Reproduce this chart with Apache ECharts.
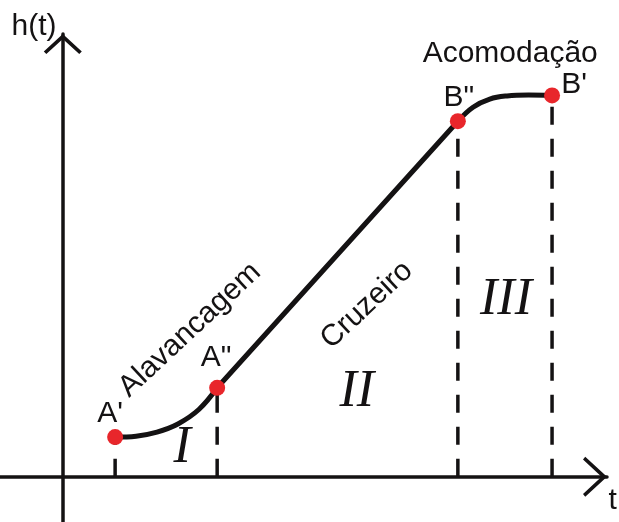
<!DOCTYPE html>
<html>
<head>
<meta charset="utf-8">
<script src="https://cdn.jsdelivr.net/npm/echarts@6/dist/echarts.min.js"></script>
<style>
  html, body { margin: 0; padding: 0; background: #ffffff; }
  #chart { width: 619px; height: 522px; }
</style>
</head>
<body>
<div id="chart"></div>
<script>
// Key points of the flight profile h(t)
const pointNames = ["A'", 'A"', 'B"', "B'"];
const pointT = [1.00, 2.95, 7.55, 9.35];
const pointH = [0.88, 1.97, 7.87, 8.44];

// Launch phase (A' -> A"): smooth take-off curve
const launchT = [1.00, 1.40, 1.80, 2.20, 2.60, 2.95];
const launchH = [0.88, 0.90, 0.99, 1.17, 1.49, 1.97];

// Settling phase (B" -> B'): curve flattening out
const settleT = [7.55, 7.84, 8.16, 8.49, 8.90, 9.35];
const settleH = [7.87, 8.18, 8.36, 8.43, 8.45, 8.44];

// Phase names and roman numerals
const phaseNames = ['Alavancagem', 'Cruzeiro', 'Acomodação'];
const phaseNumerals = ['I', 'II', 'III'];
const axisNames = ['t', 'h(t)'];

const INK = '#141213';
const RED = '#e8262b';
const SANS = "'Liberation Sans', Arial, sans-serif";
const SERIF = "'Liberation Serif', 'Times New Roman', serif";

// open chevron arrow head pointing up (w across, h along the axis, stroke thickness t)
function chevron(w, h, t) {
  const half = w / 2;
  const L = Math.sqrt(half * half + h * h);
  const tipIn = t * L / half;
  const dx = t * h / L, dy = t * half / L;
  const hOut = h - dy;
  const p = [
    [half, 0], [w, hOut], [w - dx, h], [half, tipIn], [dx, h], [0, hOut]
  ];
  return 'path://M' + p.map(q => q[0].toFixed(2) + ',' + q[1].toFixed(2)).join(' L') + ' Z';
}

const zip = (xs, ys) => xs.map((x, i) => [x, ys[i]]);

// text placements in data space
const textLayout = [
  { name: axisNames[1], value: [-0.55, 9.97], font: SANS, size: 30 },
  { name: axisNames[0], value: [10.51, -0.54], font: SANS, size: 30 },
  { name: phaseNames[0], value: [2.43, 3.25], font: SANS, size: 30, rotate: 43 },
  { name: phaseNames[1], value: [5.81, 3.80], font: SANS, size: 30, rotate: 43 },
  { name: phaseNames[2], value: [8.55, 9.36], font: SANS, size: 30 },
  { name: phaseNumerals[0], value: [2.28, 0.64], font: SERIF, size: 52, italic: true },
  { name: phaseNumerals[1], value: [5.62, 1.86], font: SERIF, size: 52, italic: true },
  { name: phaseNumerals[2], value: [8.47, 3.91], font: SERIF, size: 52, italic: true }
];
const pointLabelOffsets = [[-5, -23.5], [-1, -30.5], [1, -23.5], [22, -11]];

const dashedSeries = pointT.map((t, i) => ({
  type: 'line',
  data: [[t, 0], [t, pointH[i]]],
  symbol: 'none',
  silent: true,
  z: 2,
  lineStyle: { color: INK, width: 3.5, type: [18, 14], cap: 'butt' }
}));

const curveLine = { color: INK, width: 5, cap: 'round', join: 'round' };

const chart = echarts.init(document.getElementById('chart'), null, { renderer: 'canvas' });
chart.setOption({
  animation: false,
  backgroundColor: '#ffffff',
  grid: { left: 0, right: 12, top: 34, bottom: 0, containLabel: false, outerBoundsMode: 'none' },
  xAxis: {
    type: 'value', min: -1.2, max: 10.4,
    axisLine: {
      show: true, onZero: true,
      symbol: ['none', chevron(40, 24, 3.5)],
      symbolSize: [40, 24], symbolOffset: [0, -12],
      lineStyle: { color: INK, width: 3.5 }
    },
    axisTick: { show: false }, axisLabel: { show: false }, splitLine: { show: false }
  },
  yAxis: {
    type: 'value', min: -1, max: 9.8,
    axisLine: {
      show: true, onZero: true,
      symbol: ['none', chevron(38, 20, 3.5)],
      symbolSize: [38, 20], symbolOffset: [0, -10],
      lineStyle: { color: INK, width: 3.5 }
    },
    axisTick: { show: false }, axisLabel: { show: false }, splitLine: { show: false }
  },
  series: [
    ...dashedSeries,
    {
      type: 'line', data: zip(launchT, launchH), smooth: 0.4,
      symbol: 'none', silent: true, z: 3, lineStyle: curveLine
    },
    {
      type: 'line', data: [[pointT[1], pointH[1]], [pointT[2], pointH[2]]],
      symbol: 'none', silent: true, z: 3, lineStyle: curveLine
    },
    {
      type: 'line', data: zip(settleT, settleH), smooth: 0.4,
      symbol: 'none', silent: true, z: 3, lineStyle: curveLine
    },
    {
      type: 'scatter', clip: false, silent: true, z: 5,
      symbolSize: 16,
      itemStyle: { color: RED, opacity: 1 },
      data: pointNames.map((n, i) => ({
        name: n,
        value: [pointT[i], pointH[i]],
        label: { offset: pointLabelOffsets[i] }
      })),
      label: {
        show: true, position: 'inside', formatter: '{b}',
        fontFamily: SANS, fontSize: 30, color: INK,
        align: 'center', verticalAlign: 'middle'
      }
    },
    {
      type: 'scatter', clip: false, silent: true, z: 6,
      symbolSize: 0,
      itemStyle: { opacity: 1 },
      data: textLayout.map(d => ({
        name: d.name,
        value: d.value,
        label: {
          rotate: d.rotate || 0,
          fontFamily: d.font, fontSize: d.size,
          fontStyle: d.italic ? 'italic' : 'normal'
        }
      })),
      label: {
        show: true, position: 'inside', formatter: '{b}',
        color: INK, align: 'center', verticalAlign: 'middle'
      }
    }
  ]
});
</script>
</body>
</html>
